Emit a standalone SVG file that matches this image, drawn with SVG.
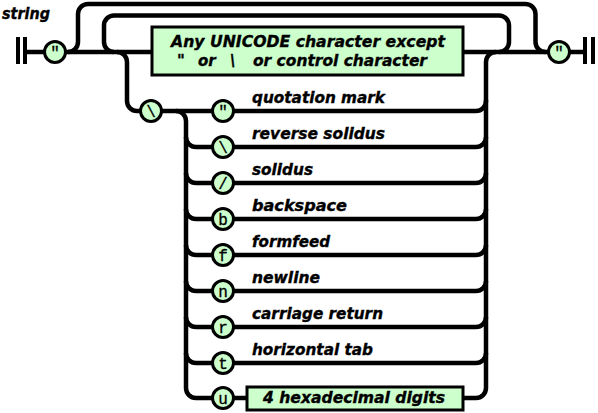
<svg xmlns="http://www.w3.org/2000/svg" width="598" height="413" viewBox="0 0 598 413">
<style>
.ln{fill:none;stroke:#000;stroke-width:4.5;stroke-linecap:butt}
.term circle{fill:#ccffcc;stroke:#000;stroke-width:3}
.term text{font-family:"Liberation Mono","DejaVu Sans Mono",monospace;font-size:16px;font-weight:normal;text-anchor:middle;fill:#000;stroke:#000;stroke-width:0.3}
.box rect{fill:#ccffcc;stroke:#000;stroke-width:3}
.lab{font-family:"DejaVu Sans",Verdana,sans-serif;font-weight:bold;font-style:italic;font-size:15px;fill:#000;stroke:#000;stroke-width:0.35}
.bar{fill:#000}
</style>
<rect width="598" height="413" fill="#fff"/>
<text id="title" class="lab" x="2" y="19" textLength="48" lengthAdjust="spacingAndGlyphs">string</text>
<g id="connectors">
<path class="ln" d="M27 52 H583"/>
<path class="ln" d="M68 52 A10 10 0 0 0 78 42 V14 A10 10 0 0 1 88 4 H525.5 A10 10 0 0 1 535.5 14 V42 A10 10 0 0 0 545.5 52"/>
<path class="ln" d="M114 52 A10 10 0 0 1 104 42 V25.5 A10 10 0 0 1 114 15.5 H499 A10 10 0 0 1 509 25.5 V42 A10 10 0 0 1 499 52"/>
<path class="ln" d="M117 52 A10 10 0 0 1 127 62 V101 A10 10 0 0 0 137 111 H476 A10 10 0 0 0 486 101 V62 A10 10 0 0 1 496 52"/>
<path class="ln" d="M176 111 A10 10 0 0 1 186 121 V388 A10 10 0 0 0 196 398 H476 A10 10 0 0 0 486 388 V100"/>
<path class="ln" d="M186 137 A10 10 0 0 0 196 147 H476 A10 10 0 0 0 486 137"/>
<path class="ln" d="M186 173 A10 10 0 0 0 196 183 H476 A10 10 0 0 0 486 173"/>
<path class="ln" d="M186 209 A10 10 0 0 0 196 219 H476 A10 10 0 0 0 486 209"/>
<path class="ln" d="M186 245 A10 10 0 0 0 196 255 H476 A10 10 0 0 0 486 245"/>
<path class="ln" d="M186 281 A10 10 0 0 0 196 291 H476 A10 10 0 0 0 486 281"/>
<path class="ln" d="M186 317 A10 10 0 0 0 196 327 H476 A10 10 0 0 0 486 317"/>
<path class="ln" d="M186 353 A10 10 0 0 0 196 363 H476 A10 10 0 0 0 486 353"/>
</g>
<g id="start"><rect class="bar" x="16" y="37" width="4" height="27"/><rect class="bar" x="23" y="37" width="4" height="27"/></g>
<g id="end"><rect class="bar" x="583" y="37" width="4" height="27"/><rect class="bar" x="591" y="37" width="4" height="27"/></g>
<g id="q-open" class="term"><circle cx="55" cy="52" r="10.5"/><text x="55" y="58">"</text></g>
<g id="q-close" class="term"><circle cx="559" cy="52" r="10.5"/><text x="559" y="58">"</text></g>
<g id="any-char" class="box"><rect x="152" y="27" width="311" height="48"/>
<text class="lab" x="171" y="47" textLength="274" lengthAdjust="spacingAndGlyphs">Any UNICODE character except</text>
<text class="lab" y="66"><tspan x="177">"</tspan><tspan x="198">or</tspan><tspan x="230">\</tspan><tspan x="253" textLength="174" lengthAdjust="spacingAndGlyphs">or control character</tspan></text>
</g>
<g id="backslash" class="term"><circle cx="151" cy="111" r="10.5"/><text x="151" y="116.5">\</text></g>
<g id="esc-quote" class="term"><circle cx="223" cy="111" r="10.5"/><text x="223" y="117">"</text></g>
<g id="esc-backslash" class="term"><circle cx="223" cy="147" r="10.5"/><text x="223" y="152.5">\</text></g>
<g id="esc-slash" class="term"><circle cx="223" cy="183" r="10.5"/><text x="223" y="188.5">/</text></g>
<g id="esc-b" class="term"><circle cx="223" cy="219" r="10.5"/><text x="223" y="224.5">b</text></g>
<g id="esc-f" class="term"><circle cx="223" cy="255" r="10.5"/><text x="223" y="260.5">f</text></g>
<g id="esc-n" class="term"><circle cx="223" cy="291" r="10.5"/><text x="223" y="296.5">n</text></g>
<g id="esc-r" class="term"><circle cx="223" cy="327" r="10.5"/><text x="223" y="332.5">r</text></g>
<g id="esc-t" class="term"><circle cx="223" cy="363" r="10.5"/><text x="223" y="368.5">t</text></g>
<g id="esc-u" class="term"><circle cx="223" cy="398" r="10.5"/><text x="223" y="403.5">u</text></g>
<g id="hex" class="box"><rect x="247" y="387" width="216" height="23"/>
<text class="lab" x="263" y="403" textLength="182" lengthAdjust="spacingAndGlyphs">4 hexadecimal digits</text></g>
<g id="labels">
<text class="lab" x="252" y="103" textLength="133" lengthAdjust="spacingAndGlyphs">quotation mark</text>
<text class="lab" x="252" y="139" textLength="133" lengthAdjust="spacingAndGlyphs">reverse solidus</text>
<text class="lab" x="252" y="175" textLength="61" lengthAdjust="spacingAndGlyphs">solidus</text>
<text class="lab" x="252" y="211" textLength="95" lengthAdjust="spacingAndGlyphs">backspace</text>
<text class="lab" x="252" y="247" textLength="78" lengthAdjust="spacingAndGlyphs">formfeed</text>
<text class="lab" x="252" y="283" textLength="68" lengthAdjust="spacingAndGlyphs">newline</text>
<text class="lab" x="252" y="319" textLength="131" lengthAdjust="spacingAndGlyphs">carriage return</text>
<text class="lab" x="252" y="355" textLength="121" lengthAdjust="spacingAndGlyphs">horizontal tab</text>
</g>
</svg>
